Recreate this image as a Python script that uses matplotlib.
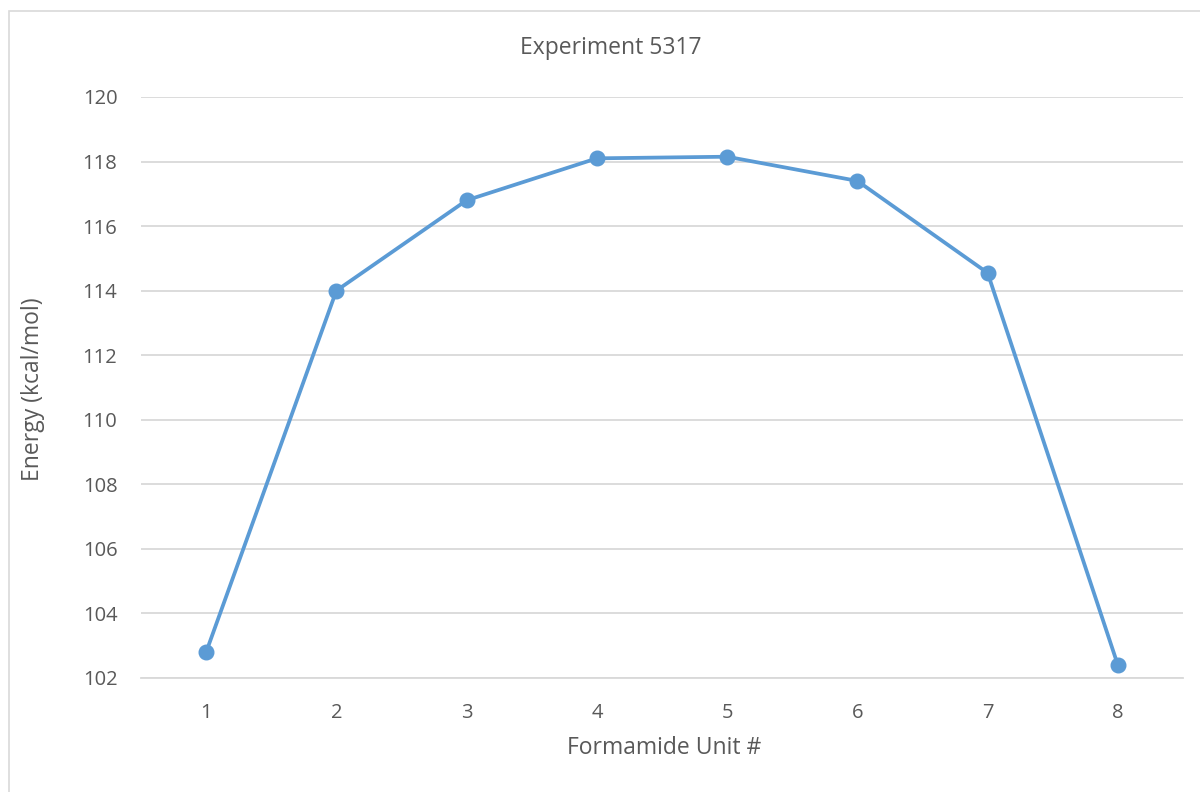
import matplotlib
matplotlib.use("Agg")
import matplotlib.pyplot as plt
from matplotlib.patches import Rectangle

units = [1, 2, 3, 4, 5, 6, 7, 8]
energy = [102.8, 114.0, 116.8, 118.1, 118.15, 117.4, 114.55, 102.4]
yticks = [102, 104, 106, 108, 110, 112, 114, 116, 118, 120]

plt.rcParams['font.family'] = ['Open Sans', 'DejaVu Sans']
txtcol = "#595959"
linecol = "#5B9BD5"

fig = plt.figure(figsize=(12, 7.92), dpi=100)
# chart frame like the office chart border
fig.patches.append(Rectangle((9/1200, -0.1), 1.2, 1 - 11/792 + 0.1, transform=fig.transFigure,
                             fill=False, edgecolor="#D9D9D9", linewidth=1.2))

ax = fig.add_axes([141/1200, 1 - 678/792, 1042/1200, 581/792])
ax.plot(units, energy, color=linecol, linewidth=2.7, marker="o", markersize=10.5, zorder=3)

ax.set_xlim(0.5, 8.5)
ax.set_ylim(102, 120)
ax.set_yticks(yticks)
ax.set_xticks(units)
ax.grid(axis="y", color="#D9D9D9", linewidth=1.3)
ax.set_axisbelow(True)
for s in ["top", "right", "left"]:
    ax.spines[s].set_visible(False)
ax.spines["bottom"].set_color("#D9D9D9")
ax.spines["bottom"].set_linewidth(1.3)
ax.tick_params(length=0, labelsize=14.5, colors=txtcol)
ax.tick_params(axis="x", pad=18)
ax.tick_params(axis="y", pad=17)

fig.text(611/1200, 1 - 48/792, "Experiment 5317", fontsize=16.5, color=txtcol,
         ha="center", va="center")
fig.text(664/1200, 1 - 748/792, "Formamide Unit #", fontsize=16.5, color=txtcol,
         ha="center", va="center")
fig.text(33/1200, 1 - 389/792, "Energy (kcal/mol)", fontsize=16.5, color=txtcol,
         ha="center", va="center", rotation=90)

fig.savefig("out.png", dpi=100)
